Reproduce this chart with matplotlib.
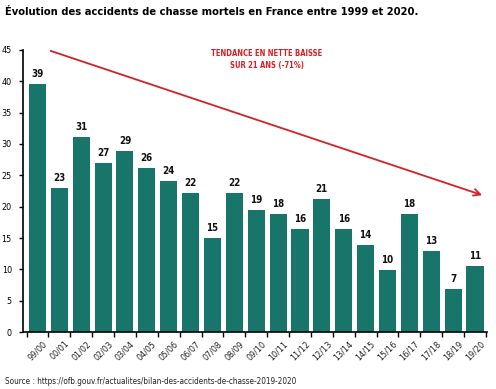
import numpy as np
import matplotlib.pyplot as plt

# données
saisons = ['99/00', '00/01', '01/02', '02/03', '03/04', '04/05', '05/06',
           '06/07', '07/08', '08/09', '09/10', '10/11', '11/12', '12/13',
           '13/14', '14/15', '15/16', '16/17', '17/18', '18/19', '19/20']
hauteurs = [39.6, 23.0, 31.1, 27.0, 28.9, 26.2, 24.1, 22.2, 15.0, 22.2, 19.5,
            18.8, 16.4, 21.2, 16.4, 13.9, 9.9, 18.8, 12.9, 6.9, 10.5]
etiquettes = ['39', '23', '31', '27', '29', '26', '24', '22', '15', '22', '19',
              '18', '16', '21', '16', '14', '10', '18', '13', '7', '11']
yticks = [0, 5, 10, 15, 20, 25, 30, 35, 40, 45]

plt.rcParams['font.family'] = ['DejaVu Sans']
plt.rcParams['font.stretch'] = 'condensed'

vert = '#17756a'
rouge = '#d42027'

fig = plt.figure(figsize=(4.96, 3.89), dpi=100)
ax = fig.add_axes([0.0464, 0.1465, 0.9355, 0.725])

x = np.arange(len(saisons))
ax.bar(x, hauteurs, width=0.78, color=vert)

for xi, h, t in zip(x, hauteurs, etiquettes):
    ax.text(xi, h + 0.8, t, ha='center', va='bottom', fontsize=7,
            fontweight='bold', color='#111111')

ax.set_xlim(-0.66, 20.55)
ax.set_ylim(0, 45)
ax.set_yticks(yticks)
ax.tick_params(axis='y', labelsize=6.5, length=3, width=1, pad=5)

# graduations entre les barres, libellés sous les barres
ax.set_xticks(np.arange(-0.5, len(saisons), 1.0))
ax.set_xticklabels([])
ax.tick_params(axis='x', which='major', length=3.5, width=1)
ax.set_xticks(x, minor=True)
ax.set_xticklabels(saisons, minor=True, rotation=45, ha='center',
                   fontsize=6.5, color='#222222')
ax.tick_params(axis='x', which='minor', length=0, pad=5)

for s in ['top', 'right']:
    ax.spines[s].set_visible(False)
ax.spines['left'].set_linewidth(1.2)
ax.spines['bottom'].set_linewidth(1.2)

# flèche de tendance
ax.annotate('', xy=(20.45, 21.7), xytext=(0.48, 45),
            arrowprops=dict(arrowstyle='->', color=rouge, lw=1.3,
                            mutation_scale=12), annotation_clip=False)

t1 = fig.text(267 / 496, 1 - 54 / 389, 'TENDANCE EN NETTE BAISSE', color=rouge,
              fontsize=6.8, fontweight='bold', ha='center', va='center')
t2 = fig.text(267 / 496, 1 - 65.5 / 389, 'SUR 21 ANS (-71%)', color=rouge,
              fontsize=6.8, fontweight='bold', ha='center', va='center')
titre = fig.text(5 / 496, 1 - 12 / 389,
                 'Évolution des accidents de chasse mortels en France entre 1999 et 2020.',
                 fontsize=10, fontweight='bold', ha='left', va='center')
source = fig.text(5 / 496, 1 - 381 / 389,
                  'Source : https://ofb.gouv.fr/actualites/bilan-des-accidents-de-chasse-2019-2020',
                  fontsize=7, ha='left', va='center', color='#222222')

# ajuster la taille pour retrouver la largeur du modèle
rend = fig.canvas.get_renderer()
for txt, largeur in [(titre, 411), (source, 292), (t1, 112)]:
    w = txt.get_window_extent(rend).width
    txt.set_fontsize(txt.get_fontsize() * largeur / w)
t2.set_fontsize(t1.get_fontsize())

fig.savefig('out.png', dpi=100)
plt.close()
